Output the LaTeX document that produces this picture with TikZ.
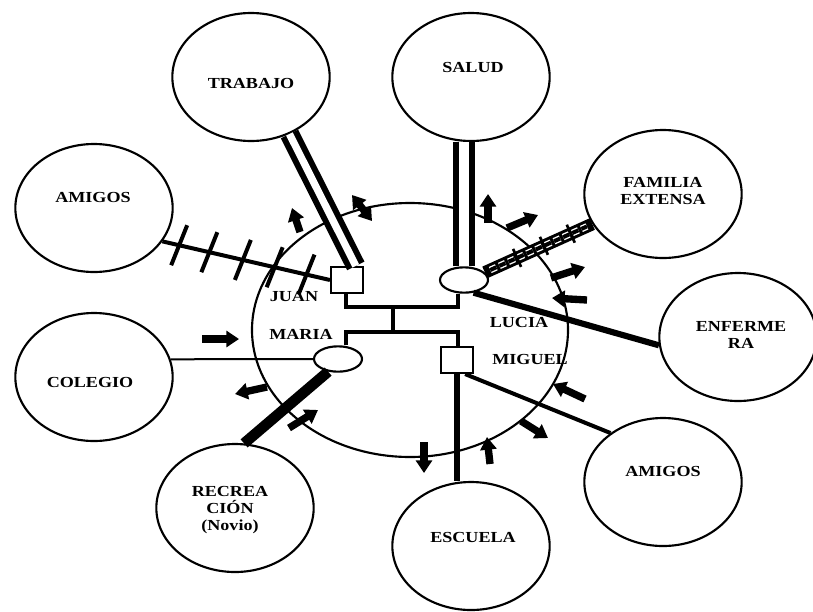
\documentclass[tikz,border=0pt]{standalone}
\usepackage{fontspec}
\setmainfont{Liberation Serif}
\newfontfamily\rotulofont{Liberation Serif}[FakeStretch=1.18]
\usetikzlibrary{shapes.geometric,arrows.meta,calc}

\tikzset{
  borde/.style={draw, line width=1.6pt},
  circulo/.style={borde, ellipse, minimum width=118pt, minimum height=96pt, inner sep=0pt},
  varon/.style={borde, fill=white, rectangle, minimum width=24pt, minimum height=19.5pt, inner sep=0pt},
  mujer/.style={borde, fill=white, ellipse, minimum width=36pt, minimum height=19pt, inner sep=0pt},
  rotulo/.style={font=\rotulofont\bfseries\fontsize{11.5}{13}\selectfont, align=center, inner sep=0pt},
  lazo/.style={line width=3.3pt},
  tenue/.style={line width=1.5pt},
  normal/.style={line width=3pt},
  grueso/.style={line width=4.6pt},
  fuerte/.style={line width=4.5pt, double, double distance=5.5pt},
  triplebase/.style={line width=9.5pt},
  triplehueco/.style={draw=white, line width=1pt, double=black, double distance=3pt, dash pattern=on 5pt off 2.5pt},
  marca/.style={line width=3pt},
  punta/.tip={Triangle[length=9.5pt,width=12pt]},
  flecha/.style={line width=5.5pt, -punta}
}

\begin{document}
\begin{tikzpicture}[x=0.75pt,y=0.75pt,yscale=-1,xscale=1]
\useasboundingbox (0,0) rectangle (813,611);
%Shape: Ellipse (sistemas externos)
\node[circulo] (trabajo) at (251,77) {};
\node[circulo] (salud) at (471,77) {};
\node[circulo] (amigosi) at (94,208) {};
\node[circulo] (familia) at (663,194) {};
\node[circulo] (enfermera) at (738,337) {};
\node[circulo] (colegio) at (94,377) {};
\node[circulo] (recrea) at (235,508) {};
\node[circulo] (escuela) at (471,546) {};
\node[circulo] (amigosd) at (663,482) {};
%Shape: Ellipse (familia)
\node[borde, ellipse, minimum width=237pt, minimum height=190.5pt] (ecomapa) at (410,330) {};
%Shape: Rectangle / Ellipse (miembros)
\node[varon] (juan) at (347,280) {};
\node[mujer] (lucia) at (464,280) {};
\node[mujer] (maria) at (338,359) {};
\node[varon] (miguel) at (457,360) {};

%Straight Lines (hermanos)
\coordinate (hA) at (346,307);
\coordinate (hB) at (458,307);
\coordinate (hC) at (346,332);
\coordinate (hD) at (458,332);
\draw[lazo] (hA |- juan.south) -- (hA) -- (hB) -- (hB |- lucia.south);
\draw[lazo] (hC |- maria.north) -- (hC) -- (hD) -- (hD |- miguel.north);
\draw[lazo] ($(hA)!0.42!(hB)$) -- ($(hC)!0.42!(hD)$);

%Straight Lines (relaciones)
\draw[fuerte] (trabajo.-56) -- (juan.58);
\draw[line width=5pt, double, double distance=7pt] (lucia.north) -- (lucia.north |- salud.south);
\draw[triplebase] (lucia.20) -- (familia.203);
\draw[triplehueco] ($(lucia.20)!0.05!(familia.203)$) -- ($(lucia.20)!0.95!(familia.203)$);
\foreach \p in {0.3,0.55,0.8}
  \draw[line width=2pt] ($(lucia.20)!\p!(familia.203)$) ++(-4,-9) -- ++(8,18);
\draw[grueso] (lucia.-53) -- (enfermera.186);
\draw[normal] (miguel.-60) -- (amigosd.137);
\draw[line width=5pt] (miguel.south) -- (miguel.south |- escuela.north);
\draw[tenue] (colegio.13) -- (maria.west);
\draw[line width=8pt] (maria.232) -- (recrea.82);
\draw[normal] (amigosi.-26) -- (juan.west);
\foreach \p in {0.10,0.28,0.48,0.67,0.86}
  \draw[marca] ($(amigosi.-26)!\p!(juan.west)$) ++(8,-20) -- ++(-16,40);

%Arrows (flujo de energia)
\foreach \xa/\ya/\xb/\yb in {300/232/292/208, 488/223/488/194, 507/228/538/215,
    551/278/585/267, 587/300/552/298, 585/399/553/384, 521/421/548/438,
    490/464/487/437, 424/442/424/473, 267/387/235/394, 289/428/318/410, 202/339/239/339}
  \draw[flecha] (\xa,\ya) -- (\xb,\yb);
\draw[flecha, punta-punta] (372,221) -- (352,195);

% Text Node
\node[rotulo] (tTrabajo) at (251,83) {TRABAJO};
\node[rotulo] (tSalud) at (473,67) {SALUD};
\node[rotulo] (tAmigosi) at (93,197) {AMIGOS};
\node[rotulo] (tFamilia) at (663,191) {FAMILIA\\EXTENSA};
\node[rotulo] (tEnfermera) at (741,335) {ENFERME\\RA};
\node[rotulo] (tColegio) at (90,382) {COLEGIO};
\node[rotulo] (tRecrea) at (230,510) {RECREA\\CIÓN\\(Novio)};
\node[rotulo] (tEscuela) at (473,537) {ESCUELA};
\node[rotulo] (tAmigosd) at (663,471) {AMIGOS};
\node[rotulo] (tJuan) at (294,297) {JUAN};
\node[rotulo] (tMaria) at (301,334) {MARIA};
\node[rotulo] (tLucia) at (519,322) {LUCIA};
\node[rotulo] (tMiguel) at (530,359) {MIGUEL};
\end{tikzpicture}
\end{document}
